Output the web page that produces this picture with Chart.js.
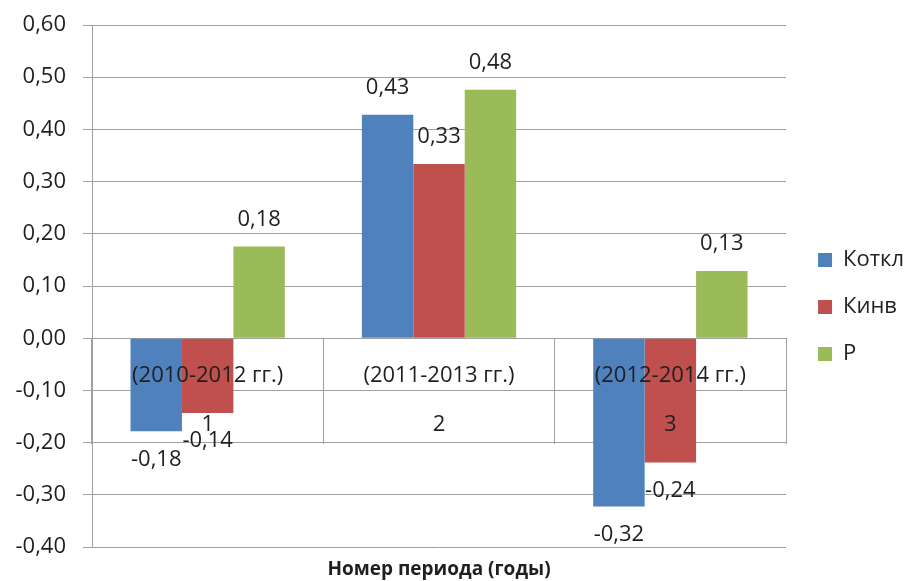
<!DOCTYPE html>
<html>
<head>
<meta charset="utf-8">
<script src="https://cdn.jsdelivr.net/npm/chart.js@4.4.1/dist/chart.umd.min.js"></script>
<style>
    html, body { margin: 0; padding: 0; background: #ffffff; }
    #wrap { width: 914px; height: 581px; }
</style>
</head>
<body>
<div id="wrap"><canvas id="barChart"></canvas></div>
<script>
var periodLabels = [['(2010-2012 гг.)', '1'], ['(2011-2013 гг.)', '2'], ['(2012-2014 гг.)', '3']];
var kotklData = [-0.178, 0.428, -0.322];
var kinvData = [-0.143, 0.334, -0.238];
var pData = [0.176, 0.476, 0.129];
var yTickValues = [-0.4, -0.3, -0.2, -0.1, 0, 0.1, 0.2, 0.3, 0.4, 0.5, 0.6];

var textColor = '#1f1f1f';
var gridColor = '#a0a0a0';
var fontName = "'Open Sans', 'DejaVu Sans', sans-serif";

function fmt(v) {
    return v.toFixed(2).replace('.', ',');
}

// value labels above / below each bar
var valueLabels = {
    id: 'valueLabels',
    afterDatasetsDraw: function(chart) {
        var ctx = chart.ctx;
        ctx.save();
        ctx.font = '22px ' + fontName;
        ctx.fillStyle = textColor;
        ctx.textAlign = 'center';
        ctx.textBaseline = 'middle';
        chart.data.datasets.forEach(function(ds, i) {
            var meta = chart.getDatasetMeta(i);
            meta.data.forEach(function(bar, j) {
                var v = ds.data[j];
                var y = v >= 0 ? bar.y - 27 : bar.y + 28;
                ctx.fillText(fmt(v), bar.x, y);
            });
        });
        ctx.restore();
    }
};

var ctx = document.getElementById('barChart').getContext('2d');
var barChart = new Chart(ctx, {
    type: 'bar',
    data: {
        labels: periodLabels,
        datasets: [{
            label: 'Коткл',
            data: kotklData,
            backgroundColor: '#4F81BD'
        }, {
            label: 'Кинв',
            data: kinvData,
            backgroundColor: '#C0504D'
        }, {
            label: 'Р',
            data: pData,
            backgroundColor: '#9BBB59'
        }]
    },
    options: {
        responsive: true,
        maintainAspectRatio: false,
        animation: false,
        categoryPercentage: 0.667,
        barPercentage: 1,
        layout: {
            padding: { top: 25, left: 0, right: 0, bottom: 0 }
        },
        scales: {
            x: {
                position: { y: 0 },
                grid: {
                    display: true,
                    drawOnChartArea: false,
                    drawTicks: true,
                    tickLength: 105,
                    color: gridColor,
                    offset: true
                },
                border: { display: true, color: gridColor },
                ticks: {
                    z: 1,
                    color: textColor,
                    font: { family: fontName, size: 22, lineHeight: 2.27 },
                    padding: -93,
                    maxRotation: 0,
                    autoSkip: false
                }
            },
            y: {
                position: 'left',
                min: -0.4,
                max: 0.6,
                afterBuildTicks: function(scale) {
                    scale.ticks = yTickValues.map(function(v) { return { value: v }; });
                },
                afterFit: function(scale) {
                    scale.width = 92;
                },
                grid: {
                    color: gridColor,
                    tickLength: 9
                },
                border: { display: true, color: gridColor },
                ticks: {
                    color: textColor,
                    font: { family: fontName, size: 22, lineHeight: 0.7 },
                    padding: 17,
                    callback: function(v) { return fmt(v); }
                }
            },
            yR: {
                position: 'right',
                display: true,
                afterFit: function(scale) {
                    scale.width = 7;
                },
                grid: { display: false },
                border: { display: false },
                ticks: { display: false }
            }
        },
        plugins: {
            legend: {
                position: 'right',
                align: 'center',
                title: {
                    display: true,
                    text: ' ',
                    font: { size: 8, lineHeight: 1 },
                    padding: 0
                },
                labels: {
                    boxWidth: 14,
                    boxHeight: 14,
                    padding: 25,
                    color: textColor,
                    font: { family: fontName, size: 22 }
                }
            },
            title: {
                display: true,
                position: 'bottom',
                fullSize: false,
                text: 'Номер периода (годы)',
                color: textColor,
                font: { family: fontName, size: 19, weight: 'bold', lineHeight: 1.2 },
                padding: { top: 11, bottom: 0 }
            },
            tooltip: { enabled: false }
        }
    },
    plugins: [valueLabels]
});
</script>
</body>
</html>
